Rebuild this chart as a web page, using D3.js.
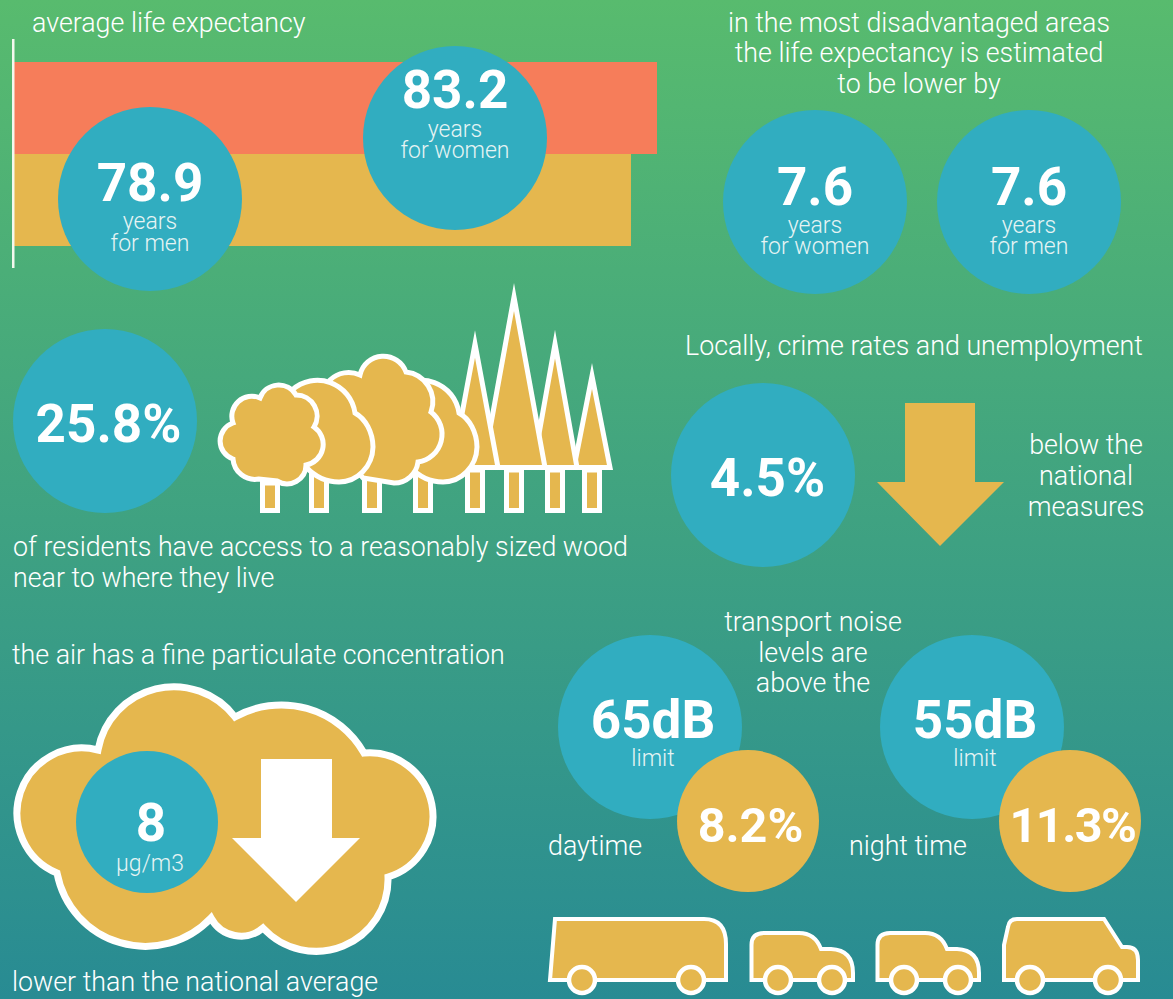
<!DOCTYPE html>
<html>
<head>
  <meta charset="UTF-8">
  <script src="https://d3js.org/d3.v7.min.js"></script>
  <style>
    html, body { margin: 0; padding: 0; }
    svg { display: block; }
    text { font-family: Roboto, sans-serif; fill: #fff; }
    .lab { font-weight: 300; font-size: 26.8px; }
    .sub { font-weight: 300; font-size: 23px; fill: #e6f4f4; }
    .big { font-weight: 700; font-size: 53px; }
  </style>
</head>
<body>
<svg id="chart"></svg>
<script>
  // values
  const lifeGroups = ["women", "men"];
  const lifeYears = [83.2, 78.9];
  const lifeLabels = ["83.2", "78.9"];
  const gapLabels = ["7.6", "7.6"];
  const gapGroups = ["for women", "for men"];
  const woodShare = "25.8%";
  const belowShare = "4.5%";
  const noiseLimits = ["65dB", "55dB"];
  const noiseShares = ["8.2%", "11.3%"];
  const noiseTimes = ["daytime", "night time"];
  const airValue = "8";
  const airUnit = "µg/m3";

  const width = 1173, height = 999;
  const blue = "#31adc0", gold = "#e5b74e", coral = "#f67d5a";

  const svg = d3.select("#chart").attr("width", width).attr("height", height);

  const grad = svg.append("defs").append("linearGradient")
    .attr("id", "bg").attr("x1", 0).attr("x2", 0).attr("y1", 0).attr("y2", 1);
  grad.append("stop").attr("offset", "0%").attr("stop-color", "#58bb6e");
  grad.append("stop").attr("offset", "100%").attr("stop-color", "#288b93");

  svg.append("rect").attr("width", width).attr("height", height).attr("fill", "url(#bg)");

  function label(x, y, str, anchor, cls) {
    return svg.append("text").attr("x", x).attr("y", y)
      .attr("text-anchor", anchor || "start")
      .attr("class", cls || "lab").text(str);
  }
  function bubble(cx, cy, r, col) {
    return svg.append("circle").attr("cx", cx).attr("cy", cy).attr("r", r).attr("fill", col || blue);
  }
  function outline(d, sw) {
    return svg.append("path").attr("d", d).attr("fill", gold).attr("stroke", "#fff")
      .attr("stroke-width", sw || 5).attr("stroke-miterlimit", 20);
  }

  // life expectancy bars, the original does not start at zero
  const x = d3.scaleLinear().domain([-23.1, 83.2]).range([14, 657]);
  const y = d3.scaleBand().domain(lifeGroups).range([62, 246]);

  svg.selectAll("rect.bar").data(lifeGroups).join("rect")
    .attr("class", "bar")
    .attr("x", x(-23.1))
    .attr("y", d => y(d))
    .attr("width", (d, i) => x(lifeYears[i]) - x(-23.1))
    .attr("height", y.bandwidth())
    .attr("fill", (d, i) => i == 0 ? coral : gold);

  svg.append("rect").attr("x", 12).attr("y", 39).attr("width", 2.5).attr("height", 229).attr("fill", "#f4f8ee");

  label(32, 32, "average life expectancy");

  bubble(455, 138, 92);
  bubble(150, 199, 92);
  label(455, 108, lifeLabels[0], "middle", "big");
  label(150, 201, lifeLabels[1], "middle", "big");
  label(455, 137, "years", "middle", "sub");
  label(455, 158, "for women", "middle", "sub");
  label(150, 229, "years", "middle", "sub");
  label(150, 251, "for men", "middle", "sub");

  // lower by
  label(919, 32, "in the most disadvantaged areas", "middle");
  label(919, 62, "the life expectancy is estimated", "middle");
  label(919, 93, "to be lower by", "middle");
  [815, 1029].forEach((cx, i) => {
    bubble(cx, 202, 92);
    label(cx, 205, gapLabels[i], "middle", "big");
    label(cx, 233, "years", "middle", "sub");
    label(cx, 254, gapGroups[i], "middle", "sub");
  });

  // woodland
  bubble(105, 421, 92);
  label(108.5, 442, woodShare, "middle", "big");

  // trunks
  [270, 319, 372, 423, 475, 514, 555, 592].forEach((tx, i) => {
    const top = i == 0 ? 483 : i < 4 ? 472 : 470;
    outline(`M${tx - 7.5} ${top}V510.5H${tx + 7.5}V${top}Z`);
  });
  // conifers, back to front
  [[592, 376, 18], [555, 344, 22], [514, 297, 31], [475, 344, 23]].forEach(c => {
    outline(`M${c[0]} ${c[1]}L${c[0] + c[2]} 467.5H${c[0] - c[2]}Z`);
  });
  // round trees, back to front
  const broad = dx => `M${292 + dx} 390A38 38 0 0 1 ${355 + dx} 413A30 38 0 0 1 ${373 + dx} 447A34 36 0 0 1 ${339 + dx} 482Q${320 + dx} 482 ${306 + dx} 467Z`;
  outline(broad(104));
  outline("M330 380A27 27 0 0 1 360 375A24 24 0 0 1 406 372A30 30 0 0 1 431 412A28 28 0 0 1 418 462A24 24 0 0 1 394 483L363 478L330 440Z");
  outline(broad(0));
  outline("M233 423A20 20 0 0 1 260 398A20 20 0 0 1 296 395A21 21 0 0 1 314 427A21 21 0 0 1 306 465A19 19 0 0 1 277 481L259 479A22 22 0 0 1 233 459A19 19 0 0 1 233 423Z");

  label(13, 556, "of residents have access to a reasonably sized wood");
  label(13, 587, "near to where they live");

  // crime and unemployment
  label(685, 355, "Locally, crime rates and unemployment");
  bubble(763, 475, 92);
  label(767.5, 496, belowShare, "middle", "big");
  svg.append("path").attr("d", "M905 403H975V482H1004L940 546L877 482H905Z").attr("fill", gold);
  ["below the", "national", "measures"].forEach((s, i) => label(1086, 454 + i * 31, s, "middle"));

  // air
  label(12, 664, "the air has a fine particulate concentration");
  outline("M98 750A77 77 0 0 1 235 717A95 95 0 0 1 364 753A63.5 63.5 0 0 1 388 877A72 72 0 0 1 263 928A34 34 0 0 1 211 918A90 90 0 0 1 57 873A65 65 0 0 1 98 750Z", 7);
  bubble(147, 822, 71);
  label(151, 841, airValue, "middle", "big");
  label(150, 871, airUnit, "middle", "sub");
  svg.append("path").attr("d", "M261 759H332V838H360L296 902L232 838H261Z").attr("fill", "#fff");
  label(12, 991, "lower than the national average");

  // noise
  [650, 972].forEach((cx, i) => {
    bubble(cx, 727, 92);
    label(cx + 3, 738, noiseLimits[i], "middle", "big");
    label(cx + 3, 766, "limit", "middle", "sub");
  });
  ["transport noise", "levels are", "above the"].forEach((s, i) => label(813, 631 + i * 30.5, s, "middle"));
  [748, 1070].forEach((cx, i) => {
    bubble(cx, 821, 71, gold);
    label(cx + 2.5, 842, noiseShares[i], "middle", "big")
      .style("font-size", "48.5px")
      .style("letter-spacing", i == 1 ? "-1.5px" : null);
  });
  label(548, 855, noiseTimes[0]);
  label(849, 855, noiseTimes[1]);

  // vehicles
  function wheels(xs) {
    xs.forEach(wx => svg.append("circle").attr("cx", wx).attr("cy", 980).attr("r", 13)
      .attr("fill", gold).attr("stroke", "#fff").attr("stroke-width", 4.5));
  }
  outline("M550 980L555 919H704Q726 919 726 944V980Z", 4);
  wheels([582, 691]);
  [0, 126].forEach(dx => {
    outline(`M${751.5 + dx} 980V945Q${751.5 + dx} 933 ${764 + dx} 933H${799 + dx}Q${815 + dx} 933 ${821 + dx} 949H${831 + dx}Q${853 + dx} 950 ${853 + dx} 973V980Z`, 4);
    wheels([778 + dx, 832 + dx]);
  });
  outline("M1004 980V945L1008 927Q1009 919 1017 919H1104L1122 947H1127Q1138 947 1138 960V980Z", 4);
  wheels([1030, 1108]);
</script>
</body>
</html>
